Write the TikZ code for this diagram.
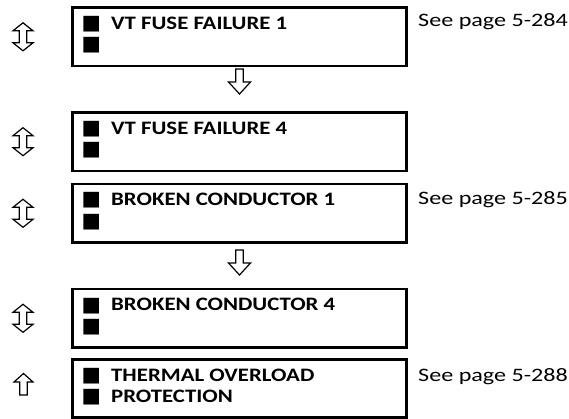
\documentclass[tikz,border=0pt]{standalone}
\usepackage{fontspec}
\setmainfont{Carlito}
\newfontfamily\boxfont[FakeStretch=1.2]{Carlito}
\newfontfamily\pagefont[FakeStretch=1.27]{Carlito}
\newfontfamily\symfont{DejaVu Sans}
\begin{document}
\begin{tikzpicture}[x=1pt,y=-1pt,
  menubox/.style={draw=black,line width=2.6pt,minimum width=334pt,minimum height=58.5pt,inner sep=0pt,fill=none},
  boxtext/.style={anchor=base west,inner sep=0pt,font=\boxfont\fontsize{19}{21}\selectfont\bfseries},
  bullet/.style={anchor=base west,inner sep=0pt,font=\symfont\fontsize{20.5}{21}\selectfont},
  seepage/.style={anchor=base west,inner sep=0pt,font=\pagefont\fontsize{19}{21}\selectfont},
  navarrow/.style={draw=black,line width=1.2pt,line join=miter,fill=white}]
\useasboundingbox (0,0) rectangle (569,419);
% boxes
\node[menubox] (b1) at (239.5,36.8) {};
\node[menubox] (b2) at (239.5,141.7) {};
\node[menubox] (b3) at (239.5,213.3) {};
\node[menubox] (b4) at (239.5,318.3) {};
\node[menubox] (b5) at (239.5,388.5) {};
% bullets
\foreach \b/\ya/\yb in {1/29.5/50.7, 2/134.4/155.6, 3/206/227.2, 4/311/332.2, 5/381.2/402.4}{
  \node[bullet] (s\b a) at (81.5,\ya) {■};
  \node[bullet] (s\b b) at (81.5,\yb) {■};
}
% texts
\node[boxtext] (t1) at (111,29.3) {VT FUSE FAILURE 1};
\node[boxtext] (t2) at (111,134.2) {VT FUSE FAILURE 4};
\node[boxtext] (t3) at (111,205.8) {BROKEN CONDUCTOR 1};
\node[boxtext] (t4) at (111,310.8) {BROKEN CONDUCTOR 4};
\node[boxtext] (t5a) at (111,381) {THERMAL OVERLOAD};
\node[boxtext] (t5b) at (111,402.2) {PROTECTION};
\node[seepage] (p1) at (418,27) {See page 5-284};
\node[seepage] (p3) at (418,205) {See page 5-285};
\node[seepage] (p5) at (418,381.5) {See page 5-288};
% up-down arrows
\foreach \yc in {36.8,141.7,213.3,318.3}{
  \draw[navarrow] (23,\yc-14) -- (33,\yc-6) -- (26.8,\yc-6) -- (26.8,\yc+6) -- (33,\yc+6)
    -- (23,\yc+14) -- (13,\yc+6) -- (19.2,\yc+6) -- (19.2,\yc-6) -- (13,\yc-6) -- cycle;
}
% up arrow
\draw[navarrow] (23.5,373.5) -- (33,382) -- (27.3,382) -- (27.3,395) -- (19.7,395) -- (19.7,382) -- (14,382) -- cycle;
% down arrows
\coordinate (d1) at (239.5,69);
\coordinate (d2) at (239.5,250);
\foreach \c in {d1,d2}{
  \draw[navarrow] ([xshift=-3.8pt]\c) -- ([xshift=3.8pt]\c) -- ([xshift=3.8pt,yshift=-13pt]\c)
    -- ([xshift=11pt,yshift=-13pt]\c) -- ([yshift=-25pt]\c) -- ([xshift=-11pt,yshift=-13pt]\c)
    -- ([xshift=-3.8pt,yshift=-13pt]\c) -- cycle;
}
\end{tikzpicture}
\end{document}
